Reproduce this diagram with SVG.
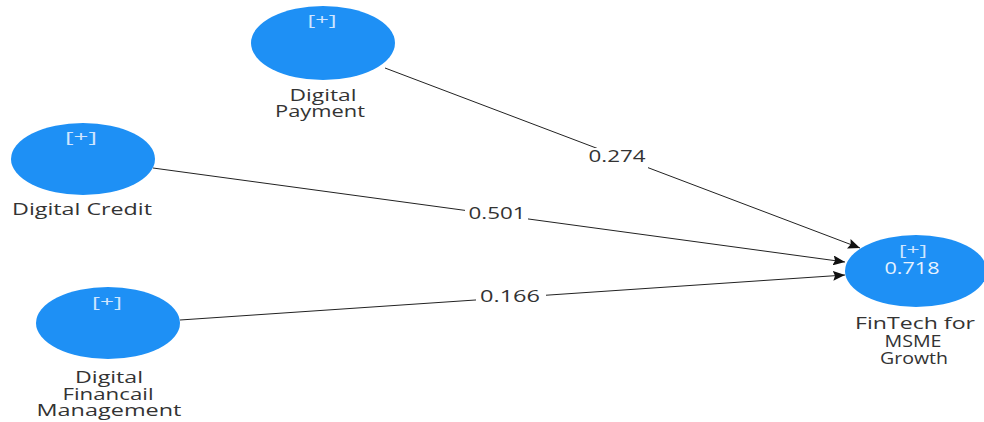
<svg xmlns="http://www.w3.org/2000/svg" width="984" height="422" viewBox="0 0 984 422">
<defs>
<marker id="arr" viewBox="0 0 12 10" refX="12" refY="5" markerWidth="12" markerHeight="10" markerUnits="userSpaceOnUse" orient="auto">
<path d="M0,0 L12,5 L0,10 L2,5 Z" fill="#111"/>
</marker>
<style>
.node{fill:#1e90f5;}
.plus{font-family:"Open Sans","Noto Sans",sans-serif;font-size:14px;fill:#cfe6ff;text-anchor:middle;}
.val{font-family:"Open Sans","Noto Sans",sans-serif;font-size:16px;fill:#e6f2ff;text-anchor:middle;}
.lbl{font-family:"Open Sans","Noto Sans",sans-serif;font-size:15.5px;fill:#333;text-anchor:middle;}
.edge{stroke:#222;stroke-width:1;fill:none;marker-end:url(#arr);}
.coef{font-family:"Open Sans","Noto Sans",sans-serif;font-size:16px;fill:#333;text-anchor:middle;}
</style>
</defs>
<rect width="984" height="422" fill="#fff"/>
<g id="connectors">
<line class="edge" x1="385" y1="68" x2="860" y2="248"/>
<line class="edge" x1="153" y1="168" x2="845" y2="262"/>
<line class="edge" x1="180" y1="320" x2="845" y2="275"/>
<rect x="586" y="148" width="62" height="20" fill="#fff"/>
<text class="coef" x="617" y="162" textLength="57" lengthAdjust="spacingAndGlyphs">0.274</text>
<rect x="465" y="205" width="63" height="20" fill="#fff"/>
<text class="coef" x="497" y="219" textLength="57" lengthAdjust="spacingAndGlyphs">0.501</text>
<rect x="476" y="288" width="70" height="20" fill="#fff"/>
<text class="coef" x="510" y="302" textLength="60" lengthAdjust="spacingAndGlyphs">0.166</text>
</g>
<g id="digital-payment">
<ellipse class="node" cx="323" cy="43" rx="72" ry="37"/>
<text class="plus" x="322" y="25" textLength="29" lengthAdjust="spacingAndGlyphs">[+]</text>
<text class="lbl" x="323" y="101" textLength="67" lengthAdjust="spacingAndGlyphs">Digital</text>
<text class="lbl" x="320" y="117" textLength="90" lengthAdjust="spacingAndGlyphs">Payment</text>
</g>
<g id="digital-credit">
<ellipse class="node" cx="83" cy="159" rx="72" ry="36"/>
<text class="plus" x="81" y="142" textLength="32" lengthAdjust="spacingAndGlyphs">[+]</text>
<text class="lbl" x="82" y="215" textLength="140" lengthAdjust="spacingAndGlyphs">Digital Credit</text>
</g>
<g id="digital-financail-management">
<ellipse class="node" cx="108" cy="323" rx="72" ry="36"/>
<text class="plus" x="107" y="307" textLength="30" lengthAdjust="spacingAndGlyphs">[+]</text>
<text class="lbl" x="109" y="383" textLength="68" lengthAdjust="spacingAndGlyphs">Digital</text>
<text class="lbl" x="108" y="399.5" textLength="91" lengthAdjust="spacingAndGlyphs">Financail</text>
<text class="lbl" x="109" y="416" textLength="145" lengthAdjust="spacingAndGlyphs">Management</text>
</g>
<g id="fintech-msme-growth">
<ellipse class="node" cx="916" cy="271" rx="71" ry="36"/>
<text class="plus" x="913" y="255" textLength="28" lengthAdjust="spacingAndGlyphs">[+]</text>
<text class="val" x="912" y="274" textLength="55" lengthAdjust="spacingAndGlyphs">0.718</text>
<text class="lbl" x="915" y="329" textLength="120" lengthAdjust="spacingAndGlyphs">FinTech for</text>
<text class="lbl" x="913" y="347" textLength="57" lengthAdjust="spacingAndGlyphs">MSME</text>
<text class="lbl" x="914" y="364" textLength="68" lengthAdjust="spacingAndGlyphs">Growth</text>
</g>
</svg>
